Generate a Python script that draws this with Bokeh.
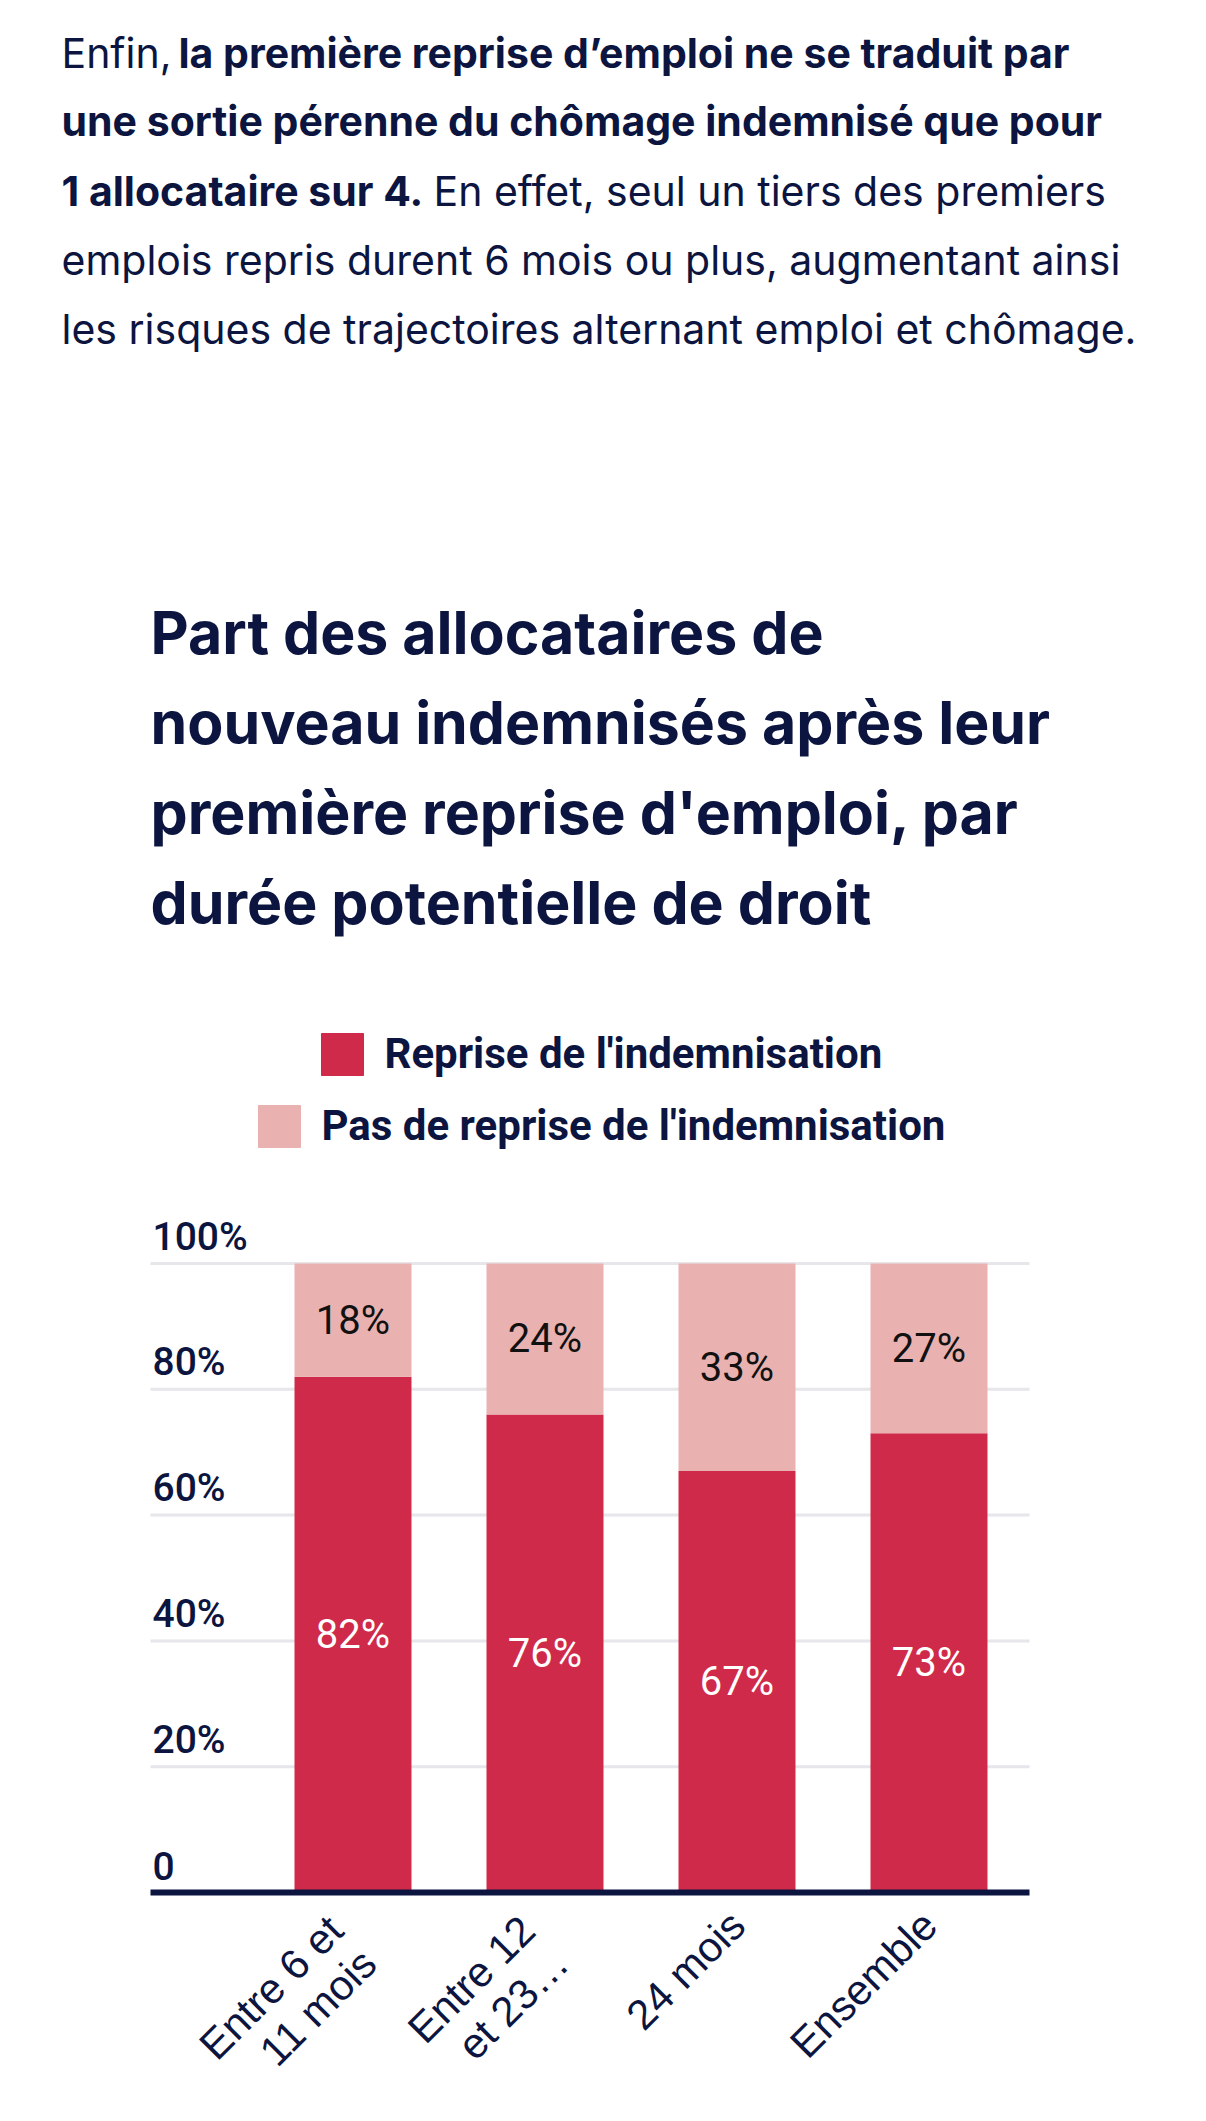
from math import pi
from bokeh.plotting import figure
from bokeh.layouts import column
from bokeh.models import Range1d, ColumnDataSource
from bokeh.core.properties import value
from bokeh.embed import file_html
from bokeh.resources import INLINE

# ---------------- data ----------------
categories = ["Entre 6 et\n11 mois", "Entre 12\net 23…", "24 mois", "Ensemble"]
series_names = ["Reprise de l'indemnisation", "Pas de reprise de l'indemnisation"]
reprise = [82, 76, 67, 73]
pas_reprise = [18, 24, 33, 27]
y_ticks = [0, 20, 40, 60, 80, 100]
y_tick_labels = ["0", "20%", "40%", "60%", "80%", "100%"]

title_lines = [
    "Part des allocataires de",
    "nouveau indemnisés après leur",
    "première reprise d'emploi, par",
    "durée potentielle de droit",
]

# ---------------- style ----------------
RED = "#cf2a49"
PINK = "#e9b2b0"
NAVY = "#0c1540"
GRID = "#e6e6eb"
W = 1206
HA = 1200
HB = 921

# ---------------- top part: text, title, legend ----------------
top = figure(width=W, height=HA, x_range=Range1d(0, W), y_range=Range1d(HA, 0),
             output_backend="svg", toolbar_location=None, min_border=0,
             x_axis_location=None, y_axis_location=None, outline_line_color=None)
top.grid.visible = False
top.background_fill_color = "white"
top.border_fill_color = "white"


def put(fig, x, y, txt, size, style="normal", font="Inter", color=NAVY, align="left"):
    fig.text(x=[x], y=[y], text=[txt], text_font=value(font), text_font_size=size,
             text_font_style=style, text_color=color, text_baseline="middle",
             text_align=align)


PFS = "41px"
put(top, 61, 52, "Enfin,", PFS)
put(top, 178, 52, "la première reprise d’emploi ne se traduit par", PFS, "bold")
put(top, 61, 120, "une sortie pérenne du chômage indemnisé que pour", PFS, "bold")
put(top, 61, 190, "1 allocataire sur 4.", PFS, "bold")
put(top, 433, 190, "En effet, seul un tiers des premiers", PFS)
put(top, 61, 259, "emplois repris durent 6 mois ou plus, augmentant ainsi", PFS)
put(top, 61, 328, "les risques de trajectoires alternant emploi et chômage.", PFS)

for i, line in enumerate(title_lines):
    put(top, 150, 632 + 90 * i, line, "59px", "bold")

# legend
top.quad(left=[321], right=[363], top=[1033], bottom=[1075], color=RED)
put(top, 384, 1053, series_names[0], "42px", "bold", font="Roboto")
top.quad(left=[258], right=[300], top=[1105], bottom=[1147], color=PINK)
put(top, 321, 1125, series_names[1], "42px", "bold", font="Roboto")

# ---------------- chart ----------------
PX = 6.29          # pixels per percentage point
SLOT = 192.0       # pixels per category
ZERO_X = 352.5     # page x of the first category centre
ZERO_Y = 1892 - 1200  # chart-local y of the 0 line
FRAME_TOP = 10
x_start = -ZERO_X / SLOT
x_end = x_start + W / SLOT
grid_x0 = (150 - ZERO_X) / SLOT
grid_x1 = (1029 - ZERO_X) / SLOT
y_start = -(HB - ZERO_Y) / PX
y_end = (ZERO_Y - FRAME_TOP) / PX

chart = figure(width=W, height=HB, x_range=Range1d(x_start, x_end), y_range=Range1d(y_start, y_end),
               output_backend="svg", toolbar_location=None,
               x_axis_location=None, y_axis_location=None,
               min_border_left=0, min_border_right=0, min_border_top=FRAME_TOP,
               min_border_bottom=0, outline_line_color=None)
chart.background_fill_color = "white"
chart.border_fill_color = "white"
chart.grid.visible = False

idx = list(range(len(categories)))
totals = [r + p for r, p in zip(reprise, pas_reprise)]
src = ColumnDataSource(dict(x=idx, reprise=reprise, pas=pas_reprise, total=totals,
                            lab_r=[f"{v}%" for v in reprise],
                            lab_p=[f"{v}%" for v in pas_reprise],
                            mid_r=[v / 2 for v in reprise],
                            mid_p=[r + p / 2 for r, p in zip(reprise, pas_reprise)]))

# horizontal grid lines
gt = y_ticks[1:]
chart.segment(x0=[grid_x0] * len(gt), x1=[grid_x1] * len(gt), y0=gt, y1=gt,
              line_color=GRID, line_width=3)

chart.vbar(x="x", bottom=0, top="reprise", width=117 / SLOT, source=src,
           fill_color=RED, line_color=None)
chart.vbar(x="x", bottom="reprise", top="total", width=117 / SLOT, source=src,
           fill_color=PINK, line_color=None)

# baseline (x axis line)
chart.segment(x0=[grid_x0], x1=[grid_x1], y0=[0], y1=[0], line_color=NAVY, line_width=6)

chart.text(x="x", y="mid_r", text="lab_r", source=src, text_font=value("Roboto"),
           text_font_size="40px", text_color="white", text_align="center",
           text_baseline="middle")
chart.text(x="x", y="mid_p", text="lab_p", source=src, text_font=value("Roboto"),
           text_font_size="40px", text_color="#111111", text_align="center",
           text_baseline="middle")

# y tick labels sit above their grid lines
chart.text(x=[grid_x0] * len(y_ticks), y=[t + 27 / PX for t in y_ticks], text=y_tick_labels,
           x_offset=2, text_font=value("Roboto Medium"), text_font_size="39px",
           text_color=NAVY, text_align="left", text_baseline="middle")

# category labels, rotated 45° below the baseline (multi-line labels sit further left)
n_lines = [c.count("\n") + 1 for c in categories]
cat_src = ColumnDataSource(dict(
    x=[i + (-16 - 18 * (n - 1)) / SLOT for i, n in zip(idx, n_lines)],
    y=[-(9 + 5 * (n - 1)) / PX for n in n_lines],
    label=categories))
chart.text(x="x", y="y", text="label", source=cat_src, angle=pi / 4,
           text_font=value("Liberation Sans"), text_font_size="42px",
           text_color=NAVY, text_align="right", text_baseline="top",
           text_line_height=1.0)

layout = column(top, chart, spacing=0)
open("out.html", "w").write(file_html(layout, INLINE))
